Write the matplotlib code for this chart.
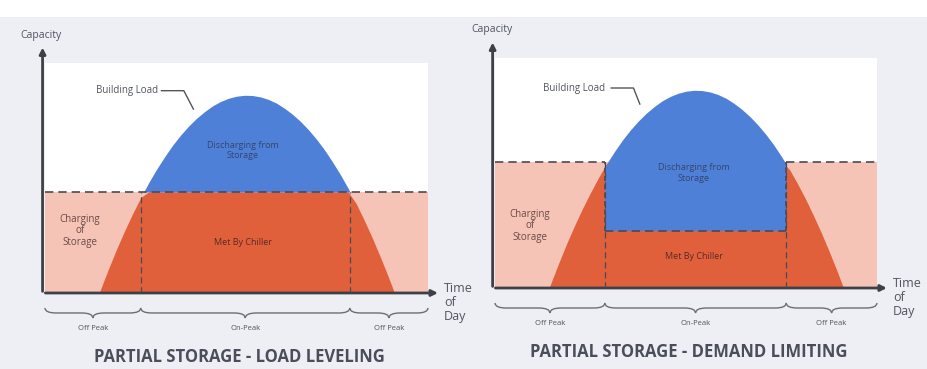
import numpy as np
import matplotlib.pyplot as plt
from matplotlib.path import Path
from matplotlib.patches import PathPatch, Rectangle

plt.rcParams['font.family'] = ['Open Sans', 'DejaVu Sans']

# building load over the day (hour, % capacity)
hours = [3.4, 3.5, 4, 4.5, 5, 5.5, 6, 6.5, 7, 7.5, 8, 8.5, 9, 9.5, 10, 10.5, 11, 11.5,
         12, 12.5, 13, 13.5, 14, 14.5, 15, 15.5, 16, 16.5, 17, 17.5, 18, 18.5, 19, 19.5,
         20, 20.5, 21, 21.5, 21.9]
load = [0, 1.9, 10.8, 19.3, 27.2, 34.6, 41.5, 48.0, 53.9, 59.3, 64.3, 68.7, 72.6, 76.0,
        78.9, 81.4, 83.3, 84.7, 85.6, 86.0, 85.9, 85.3, 84.2, 82.6, 80.4, 77.8, 74.7,
        71.1, 67.0, 62.4, 57.2, 51.6, 45.5, 38.9, 31.7, 24.1, 15.9, 7.3, 0]

# load leveling: chiller runs flat all day
lvl_storage = 44
lvl_window = [6.0, 19.1]

# demand limiting: chiller capped during on-peak
dl_storage = 55
dl_chiller = 25
dl_window = [6.9, 18.3]

peak_labels = ['Off Peak', 'On-Peak', 'Off Peak']
titles = ['PARTIAL STORAGE - LOAD LEVELING', 'PARTIAL STORAGE - DEMAND LIMITING']

PINK = '#f5c4b6'
ORANGE = '#e0603c'
BLUE = '#4f80d8'
DASH = '#4a4a52'
AXIS = '#3e4048'
TXT = '#50545f'

hours = np.array(hours)
load = np.array(load)


def brace(ax, x0, x1, y, d=2.2, q=0.7):
    xm = (x0 + x1) / 2
    verts = [(x0, y + d), (x0, y), (x0 + q, y), (xm - q, y), (xm, y), (xm, y - d),
             (xm, y), (xm + q, y), (x1 - q, y), (x1, y), (x1, y + d)]
    codes = [Path.MOVETO, Path.CURVE3, Path.CURVE3, Path.LINETO, Path.CURVE3, Path.CURVE3,
             Path.CURVE3, Path.CURVE3, Path.LINETO, Path.CURVE3, Path.CURVE3]
    ax.add_patch(PathPatch(Path(verts, codes), fc='none', ec='#6a6e78', lw=1.0,
                           clip_on=False))


def base_axes(ax, storage, window, title):
    ax.set_xlim(0, 24)
    ax.set_ylim(0, 100)
    ax.set_facecolor('white')
    for s in ax.spines.values():
        s.set_visible(False)
    ax.set_xticks([])
    ax.set_yticks([])

    ax.fill_between([0, 24], 0, storage, color=PINK, lw=0, zorder=1)
    ax.fill_between(hours, 0, np.minimum(load, storage), color=ORANGE, lw=0, zorder=2)
    ax.vlines(window, 0, storage, colors=DASH, linestyles=(0, (5, 3)), lw=0.9, zorder=5)

    # axis arrows
    ax.annotate('', xy=(24.8, 0), xytext=(-0.15, 0), annotation_clip=False,
                arrowprops=dict(arrowstyle='-|>', color=AXIS, lw=2, mutation_scale=9))
    ax.annotate('', xy=(-0.15, 108), xytext=(-0.15, -0.5), annotation_clip=False,
                arrowprops=dict(arrowstyle='-|>', color=AXIS, lw=2, mutation_scale=9))
    ax.text(25.0, -4, 'Time\nof\nDay', fontsize=9, color=TXT, va='center', ha='left',
            linespacing=1.1, clip_on=False)

    edges = [0, window[0], window[1], 24]
    for i in range(3):
        brace(ax, edges[i], edges[i + 1], -8.7)
        ax.text((edges[i] + edges[i + 1]) / 2, -15.5, peak_labels[i], fontsize=5.5,
                color=TXT, ha='center', va='center', clip_on=False)
    ax.text(12.2, -28, title, fontsize=12, fontweight='bold', color='#4a4e5a',
            ha='center', va='center', clip_on=False)
    ax.text(2.2, 27, 'Charging\nof\nStorage', fontsize=7, color='#6a4a48', ha='center',
            va='center', linespacing=1.1, zorder=6)


fig = plt.figure(figsize=(9.27, 3.69), dpi=100)
fig.patch.set_facecolor('#eeeff5')
fig.add_artist(Rectangle((0, 0.955), 1, 0.045, transform=fig.transFigure,
                         color='white', lw=0, zorder=0))

# left panel: load leveling
ax1 = fig.add_axes([0.0485, 0.206, 0.4132, 0.623])
base_axes(ax1, lvl_storage, lvl_window, titles[0])
ax1.fill_between(hours, lvl_storage, load, where=load >= lvl_storage,
                 interpolate=True, color=BLUE, lw=0, zorder=3)
ax1.hlines(lvl_storage, 0, 24, colors=DASH, linestyles=(0, (5, 3)), lw=1.2, zorder=5)
ax1.text(12.4, 62, 'Discharging from\nStorage', fontsize=6.5, color='#34466e',
         ha='center', va='center', zorder=6)
ax1.text(12.4, 22, 'Met By Chiller', fontsize=6.5, color='#5a2a22',
         ha='center', va='center', zorder=6)
ax1.text(7.1, 88, 'Building Load', fontsize=7, color=TXT, ha='right', va='center')
ax1.plot([7.3, 8.7, 9.3], [88, 88, 80], color='#555', lw=1)
fig.text(0.044, 0.905, 'Capacity', fontsize=7.5, color=TXT, ha='center', va='center')

# right panel: demand limiting
ax2 = fig.add_axes([0.534, 0.2195, 0.412, 0.623])
base_axes(ax2, dl_storage, dl_window, titles[1])
blue = ax2.fill_between(hours, dl_chiller, load, color=BLUE, lw=0, zorder=3)
blue.set_clip_path(Rectangle((dl_window[0], 0), dl_window[1] - dl_window[0], 100,
                             transform=ax2.transData))
ax2.hlines([dl_storage, dl_storage], [0, dl_window[1]], [dl_window[0], 24], colors=DASH,
           linestyles=(0, (5, 3)), lw=1.2, zorder=5)
ax2.hlines(dl_chiller, dl_window[0], dl_window[1], colors=DASH,
           linestyles=(0, (5, 3)), lw=1.2, zorder=5)
ax2.vlines(dl_window, dl_chiller, dl_storage, colors=DASH,
           linestyles=(0, (3, 2)), lw=1.2, zorder=5)
ax2.text(12.5, 50, 'Discharging from\nStorage', fontsize=6.5, color='#34466e',
         ha='center', va='center', zorder=6)
ax2.text(12.5, 13.5, 'Met By Chiller', fontsize=6.5, color='#5a2a22',
         ha='center', va='center', zorder=6)
ax2.text(6.9, 87, 'Building Load', fontsize=7, color=TXT, ha='right', va='center')
ax2.plot([7.3, 8.7, 9.1], [87, 87, 80], color='#555', lw=1)
fig.text(0.531, 0.919, 'Capacity', fontsize=7.5, color=TXT, ha='center', va='center')

fig.savefig('out.png', dpi=100, facecolor=fig.get_facecolor())
